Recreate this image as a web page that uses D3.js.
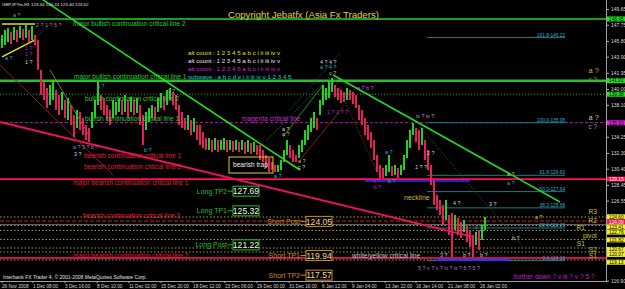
<!DOCTYPE html>
<html><head><meta charset="utf-8">
<script src="https://cdn.jsdelivr.net/npm/d3@7"></script>
<style>body{margin:0;background:#000;} svg{display:block;} text{font-family:"Liberation Sans",Arial,sans-serif;}</style>
</head><body><svg id="c" width="625" height="289"></svg>
<script>
// ---------- DATA ----------
const hi=[146.52,147.12,147.36,146.88,147.48,147.12,147.60,147.24,147.72,147.12,
147.60,146.52,145.92,142.30,140.85,140.13,140.49,141.09,139.89,139.29,
139.65,138.68,138.92,138.08,136.87,137.48,137.24,136.51,135.67,135.31,
137.24,138.68,140.85,139.29,138.92,138.08,137.48,138.68,138.44,138.92,
138.68,139.29,138.68,139.04,138.68,138.92,138.08,136.87,137.24,137.72,
138.08,137.84,138.92,139.53,139.16,139.89,140.13,139.65,139.29,138.08,
137.24,136.51,136.87,136.27,136.51,135.67,135.67,134.83,134.10,134.10,
133.86,134.10,133.86,133.86,134.10,133.86,133.86,133.74,133.86,133.62,
133.86,133.62,133.86,133.50,133.62,133.25,133.25,132.66,132.05,131.69,
131.21,130.85,130.85,131.45,132.66,133.86,133.25,132.66,132.05,133.25,
133.86,135.07,135.67,136.51,137.24,136.51,138.68,140.49,140.13,140.85,
141.33,140.49,140.13,139.89,139.65,140.13,139.89,139.65,139.29,138.08,
137.48,136.51,135.67,134.83,133.86,132.05,130.85,130.49,130.85,132.05,
130.73,130.85,130.49,130.85,132.05,133.86,135.07,135.91,135.31,135.07,
135.31,133.86,132.66,130.85,129.04,127.23,126.63,126.03,126.63,124.82,
125.06,124.82,124.46,123.98,124.22,123.62,123.01,122.41,122.77,123.01,
123.62,124.58];
const lo=[144.95,145.31,145.67,145.43,145.92,145.67,146.16,145.92,146.16,145.67,
145.92,145.31,142.30,139.29,138.68,137.72,138.08,138.68,137.48,136.87,
137.48,136.51,136.27,135.67,134.22,135.31,135.07,134.46,133.86,133.62,
135.31,136.51,138.08,137.48,136.87,136.27,135.67,136.51,136.87,137.24,
136.87,137.24,136.51,137.24,136.87,137.11,135.67,133.25,135.07,136.03,
136.51,136.27,137.24,137.72,137.48,138.08,138.68,138.08,137.48,135.67,
135.31,135.07,135.07,134.46,134.83,133.86,133.25,132.90,132.66,132.66,
132.41,132.66,132.41,132.66,132.66,132.41,132.66,132.41,132.66,132.41,
132.66,132.17,132.41,132.17,132.41,132.05,131.45,131.21,130.49,130.00,
130.24,130.00,130.00,130.24,131.21,132.05,131.69,131.21,131.21,131.69,
132.41,133.25,133.86,134.83,135.31,135.07,136.87,138.08,138.68,138.92,
139.65,139.04,138.68,138.32,138.44,138.68,138.68,138.20,137.72,136.27,
135.67,134.46,133.86,132.90,131.45,130.00,129.28,129.28,129.52,130.00,
129.52,129.64,129.28,129.64,130.24,131.69,132.90,134.46,133.62,132.66,
133.25,131.45,130.24,128.44,126.03,125.42,124.82,123.62,124.22,122.41,
119.76,123.01,122.41,122.05,122.77,121.57,120.96,119.76,121.20,120.60,
121.81,123.01];
const timeLabels=["26 Nov 2008","1 Dec 08:00","3 Dec 16:00","8 Dec 10:00","11 Dec 02:00","15 Dec 20:00","18 Dec 12:00","23 Dec 06:00","29 Dec 00:00","31 Dec 16:00","6 Jan 12:00","9 Jan 04:00","13 Jan 22:00","16 Jan 14:00","21 Jan 08:00","26 Jan 02:00"];
const timeIdx=[0,10.3,21,31.7,42.3,53,63.7,74.3,85,95.7,106.7,116.7,127.7,138,148.7,159.3];
const axisTicks=[149.65,147.75,145.80,143.90,141.95,140.00,138.10,134.25,132.30,130.40,128.45,126.55,116.90];
const levelPrices=[148.45,141.01,139.38,135.95,129.15,124.58,124.09,123.66,123.55,122.95,121.87,120.84,120.36,119.64,119.40];
const levelKinds=["lime","lime2","gdot","mag","red","ydot","rdash","slate","ydot","ydot","ydot","ydot","ydot","mred","ydot"];
const boxValues=[148.45,141.01,139.38,135.93,129.15,124.60,124.09,123.41,122.76,121.82,120.67,120.07,119.13];
const boxKinds=["g","g","g","m","r","y","r","y","y","y","y","y","y"];
const fibLevels=[0,23.6,38.2,50.0,61.8,100.0,161.8];
const fibPrices=[119.33,123.25,125.68,127.64,129.60,135.95,146.21];
const tradeNames=["Long TP2","Long TP1","Long Post","Short Post","Short TP1","Short TP2"];
const tradePrices=[127.69,125.32,121.22,124.05,119.94,117.57];

// ---------- SETUP ----------
const svg=d3.select('#c');
svg.append('rect').attr('width',625).attr('height',289).attr('fill','#000');
const plotR=606, plotB=281;
const x=d3.scaleLinear().domain([0,hi.length-1]).range([2,485]);
const y=d3.scaleLinear().domain([116.90,149.65]).range([280.7,9]);
svg.append('clipPath').attr('id','cp').append('rect').attr('x',0).attr('y',0).attr('width',plotR).attr('height',plotB);
const g=svg.append('g').attr('clip-path','url(#cp)');

const kindStyle={
 lime:{c:'#1fd81f',w:1.6},lime2:{c:'#22c422',w:2.4},gdot:{c:'#2fa82f',w:1,d:'1,2'},
 mag:{c:'#b01cb0',w:1,d:'3,2'},red:{c:'#ff0f5a',w:1.8},ydot:{c:'#b8b020',w:0.9,d:'1.5,2'},
 rdash:{c:'#d02020',w:1,d:'4,2'},slate:{c:'#5a6a9a',w:1},mred:{c:'#c8105a',w:2}
};
levelPrices.forEach((p,k)=>{
 const s=kindStyle[levelKinds[k]];
 g.append('line').attr('x1',0).attr('x2',plotR).attr('y1',y(p)).attr('y2',y(p))
  .attr('stroke',s.c).attr('stroke-width',s.w).attr('stroke-dasharray',s.d||null);
});

fibPrices.forEach((p,k)=>{
 g.append('line').attr('x1',x(141.7)).attr('x2',x(187.7)).attr('y1',y(p)).attr('y2',y(p))
  .attr('stroke','#1e7a7a').attr('stroke-width',1);
 g.append('text').attr('x',x(187.7)).attr('y',y(p)-1).attr('text-anchor','end')
  .attr('font-size',4.8).attr('fill','#3aaecc').text(fibLevels[k].toFixed(1)+'-'+p.toFixed(2));
});

const trends=[
 [13.67,150.74,99.33,130.24,'#22e022',1.6,null],
 [110.33,141.70,186,126.39,'#22d822',1.6,null],
 [-0.67,136.03,157,122.17,'#f01060',1.8,null],
 [-0.67,142.90,37,129.64,'#8a1c2a',1,null],
 [0,147.84,11,147.84,'#e8e020',1.4,null],
 [0,143.87,11,145.92,'#e8e020',1.4,null],
 [10.33,145.92,19.33,149.05,'#9a3a9a',0.8,'1,1.5'],
 [16,142.30,29.33,134.22,'#a09a20',0.8,null],
 [121,128.92,156,128.92,'#2038ff',1.6,null],
 [145,119.40,169.33,119.40,'#2038ff',2,null],
 [96,137.48,112.67,144.35,'#1e8080',0.8,'1,1.5'],
 [139.33,135.43,173.67,120.96,'#1e6a4a',0.8,'1.5,1.5'],
 [110.33,141.70,126,129.28,'#c02040',0.8,'1.5,1.5'],
 [99.33,131.45,113.67,137.84,'#a02030',0.8,null],
 [93.67,134.22,107,140.49,'#22b822',0.8,null],
 [88.33,133.86,110.33,141.94,'#2a8a2a',0.8,'1.5,1.5']
];
trends.forEach(t=>{
 g.append('line').attr('x1',x(t[0])).attr('y1',y(t[1])).attr('x2',x(t[2])).attr('y2',y(t[3]))
  .attr('stroke',t[4]).attr('stroke-width',t[5]).attr('stroke-dasharray',t[6]);
});

const mids=hi.map((h,i)=>(h+lo[i])/2);
g.selectAll('rect.bar').data(hi).enter().append('rect').attr('class','bar')
 .attr('x',(d,i)=>x(i)-1).attr('width',2)
 .attr('y',d=>y(d)).attr('height',(d,i)=>Math.max(1,y(lo[i])-y(d)))
 .attr('fill',(d,i)=> (i===0||mids[i]>=mids[i-1])?'#1ed41e':'#e8205a');

g.append('rect').attr('x',x(75.67)).attr('y',y(131.81)).attr('width',x(90.33)-x(75.67)).attr('height',y(129.88)-y(131.81))
 .attr('fill','none').attr('stroke','#e0d020').attr('stroke-width',1);
const A=6.6, W=5.4, R=6.6;
const notes=[
 [23.67,147.60,'major bullish continuation critical line 2','#2ec82e',A],
 [24,141.21,'major bullish continuation critical line 1','#2ec82e',A],
 [62,141.21,'subwave : a b c d e i ii iii iv v 1 2 3 4 5','#1ec8e8',6.2],
 [62,144.11,'alt count : 1 2 3 4 5 a b c i ii iii iv v','#e0e020',6.2],
 [62,143.14,'alt count : 1 2 3 4 5 a b c i ii iii iv v','#e8e8e8',6.2],
 [62,142.18,'alt count : 1 2 3 4 5 a b c i ii iii iv v','#d020d0',6.2],
 [27.67,138.56,'bullish continuation critical line 2','#2ec82e',A],
 [27.67,136.15,'bullish continuation critical line 1','#2ec82e',A],
 [80,136.15,'magenta critical line','#d028d0',A],
 [27.33,131.69,'bearish continuation critical line 1','#e02030',A],
 [27.33,130.36,'bearish continuation critical line 2','#e02030',A],
 [23.67,128.44,'major bearish continuation critical line 1','#e02030',A],
 [27,124.46,'bearish continuation critical line 3','#e02030',A],
 [23.67,119.64,'major bearish continuation critical line 2','#e02030',A],
 [77,130.6,'bearish trap','#f0f0f0',6.6],
 [134,126.63,'neckline','#c8b840',7],
 [116.67,119.64,'white/yellow critical line','#c8c8c8',A],
 [170.67,117.1,'further down ? v iii ? v ? 5 ?','#c020c8',6.6],
 [198.3,124.94,'R3','#c8c030',R,'end'],
 [198.3,123.80,'R2','#c8c030',R,'end'],
 [194.3,123.01,'R1','#c8c030',R,'end'],
 [198.3,122.05,'pivot','#c8c030',R,'end'],
 [194.3,121.14,'S1','#c8c030',R,'end'],
 [198.3,120.40,'S2','#c8c030',R,'end'],
 [198.3,119.58,'S1','#c8c030',R,'end'],
 [195.5,141.9,'a ?','#c8b840',7.4],
 [195.5,140.8,'c ?','#a09060',6.4],
 [195.5,136.3,'a ?','#c8c8c8',7.4],
 [195.5,135.2,'c ?','#a0a0a0',6.4],
 [3.67,148.69,'a ?','#30b0c0',W],
 [11.33,147.48,'2 ? 1 ? 5 ?','#b070c0',W],
 [1,143.50,'a ?','#30b0c0',W],
 [7.67,144.71,'1 ?','#b030d0',W],
 [7.67,143.99,'1 ?','#b030d0',W],
 [7.67,143.02,'1 ?','#d0d0d0',W],
 [31.67,140.13,'b ?','#30b0c0',W],
 [23.67,132.78,'a ? 5 ? b ?','#b070c0',W],
 [24,131.93,'3 ?','#d0d0d0',W],
 [47.33,132.41,'b ?','#30b0c0',W],
 [55.33,139.53,'c ?','#30b0c0',W],
 [90.67,129.28,'a ?','#30b0c0',W],
 [93.33,134.95,'a ?','#d0d0d0',W],
 [93.33,134.34,'a ?','#d0c040',W],
 [98.67,131.09,'a ?','#d0c040',W],
 [98.67,130.36,'c ?','#d0d0d0',W],
 [106,143.02,'4 ? 4 ?','#d0d0d0',W],
 [106,142.42,'a ? 4 ?','#30b0c0',W],
 [109,141.70,'c ?','#d0c040',W],
 [108.33,136.99,'1 ? 1 ? ?','#b030d0',W],
 [118.33,139.89,'a ? b ?','#b070c0',W],
 [138,136.51,'iv ? iv ?','#c0a0c0',W],
 [141.67,132.05,'2 ?','#d0d0d0',W],
 [137.67,130.36,'1 ? ?','#d0d0d0',W],
 [127.67,132.17,'a ?','#30b0c0',W],
 [123.67,128.68,'ii ?','#b030d0',W],
 [123.67,127.95,'iii ?','#b030d0',W],
 [128.67,128.68,'b ?','#30b0c0',W],
 [168.33,129.52,'a ?','#d0c040',W],
 [168.33,128.44,'a ?','#30b0c0',W],
 [150.33,126.03,'4 ?','#d0d0d0',W],
 [162.33,125.91,'3 ?','#d0d0d0',W],
 [177.67,124.34,'a ?','#d0c040',W],
 [170,121.81,'b ?','#d0d0d0',W],
 [157.67,123.13,'v ?','#30b0c0',W],
 [146,119.76,'3 ?','#d0d0d0',W],
 [153.67,119.76,'b ?','#d0d0d0',W],
 [159.33,119.76,'b ?','#d0d0d0',W],
 [138.67,118.19,'5 ? v ? v ? iii ? iii ? 5 ? 5 ?','#b070c0',W]
];
notes.forEach(n=>{
 g.append('text').attr('x',x(n[0])).attr('y',y(n[1])).attr('fill',n[3]).attr('font-size',n[4])
  .attr('text-anchor',n[5]||'start').text(n[2]);
});

tradeNames.forEach((nm,k)=>{
 const isLong=nm.startsWith('Long');
 const bx=isLong?x(77):x(101.33), yy=y(tradePrices[k]);
 const col=isLong?'#20c020':'#d08a10';
 g.append('text').attr('x',bx-6).attr('y',yy+2.5).attr('text-anchor','end').attr('font-size',7).attr('fill',col).text(nm);
 g.append('line').attr('x1',bx-5.5).attr('x2',bx).attr('y1',yy).attr('y2',yy).attr('stroke',col);
 g.append('rect').attr('x',bx).attr('y',yy-5).attr('width',26).attr('height',10).attr('fill','#000').attr('stroke',col).attr('stroke-width',1);
 g.append('text').attr('x',bx+13).attr('y',yy+3.3).attr('text-anchor','middle').attr('font-size',8.6)
  .attr('fill',isLong?'#e8ffe8':'#f0d8a0').text(tradePrices[k].toFixed(2));
});

svg.append('text').attr('x',2).attr('y',6).attr('font-size',4.4).attr('fill','#e0e0e0').text('GBPJPYm,H1  123.34 124.24 123.40 123.62');
svg.append('text').attr('x',228).attr('y',18).attr('font-size',9.6).attr('fill','#e0d040').text('Copyright Jebatfx (Asia Fx Traders)');
svg.append('text').attr('x',3).attr('y',278.5).attr('font-size',5).attr('fill','#e0e0e0').text('Interbank FX Trader 4, \u00a9 2001-2008 MetaQuotes Software Corp.');

svg.append('line').attr('x1',plotR+0.5).attr('x2',plotR+0.5).attr('y1',0).attr('y2',plotB).attr('stroke','#a0a0a0');
svg.append('line').attr('x1',0).attr('x2',plotR+1).attr('y1',plotB+0.5).attr('y2',plotB+0.5).attr('stroke','#a0a0a0');

const ax=svg.append('g').attr('transform',`translate(${plotR+1},0)`)
 .call(d3.axisRight(y).tickValues(axisTicks).tickSize(2).tickFormat(d3.format('.2f')));
ax.select('.domain').remove();
ax.selectAll('line').attr('stroke','#b0b0b0');
ax.selectAll('text').attr('font-size',5).attr('fill','#d8d8d8').attr('x',4).attr('font-family','Liberation Sans, Arial');

const bcol={g:['#22e022','#000'],m:['#e020e0','#000'],r:['#ff1050','#fff'],y:['#f0f030','#000']};
let items=boxValues.map((v,k)=>({v,k,yy:y(v)})).sort((a,b)=>a.yy-b.yy);
for(let k=1;k<items.length;k++){ if(items[k].yy<items[k-1].yy+5) items[k].yy=items[k-1].yy+5; }
items.forEach(it=>{
 const c=bcol[boxKinds[it.k]];
 svg.append('rect').attr('x',plotR+1).attr('y',it.yy-2.5).attr('width',18).attr('height',5).attr('fill',c[0]);
 svg.append('text').attr('x',plotR+3).attr('y',it.yy+1.8).attr('font-size',4.8).attr('fill',c[1]).text(it.v.toFixed(2));
});

timeIdx.forEach((t,k)=>{
 svg.append('line').attr('x1',x(t)).attr('x2',x(t)).attr('y1',plotB).attr('y2',plotB+2).attr('stroke','#b0b0b0');
 svg.append('text').attr('x',x(t)).attr('y',287.5).attr('font-size',4.7).attr('fill','#d8d8d8').text(timeLabels[k]);
});
</script></body></html>
